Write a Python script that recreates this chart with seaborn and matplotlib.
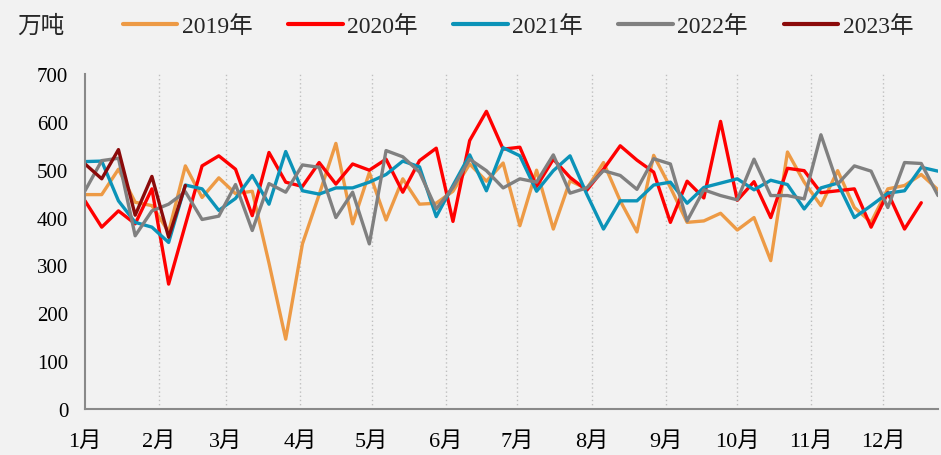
import numpy as np
import pandas as pd
import matplotlib
matplotlib.use("Agg")
import matplotlib.pyplot as plt
import seaborn as sns

# weekly output, 万吨
years = ["2019年", "2020年", "2021年", "2022年", "2023年"]
y2019 = [448, 448, 501, 432, 425, 370, 508, 442, 483, 450, 455, 305, 146, 345, 448, 555,
         387, 494, 395, 481, 428, 430, 455, 512, 476, 514, 383, 499, 376, 477, 460, 515,
         435, 370, 530, 463, 390, 393, 409, 374, 400, 310, 537, 474, 425, 498, 421, 390,
         460, 467, 490, 458]
y2020 = [435, 380, 414, 387, 460, 261, 385, 508, 529, 501, 404, 536, 474, 465, 515, 470,
         512, 499, 522, 453, 519, 545, 392, 561, 622, 543, 547, 465, 522, 484, 457, 501,
         550, 520, 495, 390, 476, 441, 601, 436, 475, 400, 503, 498, 452, 456, 460, 380,
         452, 376, 431]
y2021 = [517, 518, 435, 390, 380, 348, 468, 460, 415, 440, 488, 428, 538, 456, 449, 462,
         462, 474, 490, 518, 506, 402, 467, 531, 456, 546, 529, 455, 498, 529, 449, 376,
         435, 435, 468, 474, 430, 463, 472, 481, 458, 478, 469, 418, 462, 472, 400, 425,
         451, 456, 505, 497]
y2022 = [456, 519, 524, 362, 414, 428, 454, 396, 403, 469, 373, 471, 453, 510, 505, 400,
         453, 345, 540, 527, 495, 418, 463, 522, 498, 462, 481, 474, 531, 451, 462, 498,
         488, 459, 523, 512, 393, 458, 446, 437, 522, 446, 446, 439, 573, 470, 508, 497,
         421, 515, 513, 446]
y2023 = [512, 481, 542, 405, 486, 359, 467]
series = [y2019, y2020, y2021, y2022, y2023]
colors = ["#ED9A45", "#FF0000", "#0B93B8", "#808080", "#8B0A0A"]

month_labels = ["1月", "2月", "3月", "4月", "5月", "6月", "7月", "8月", "9月", "10月", "11月", "12月"]
month_start = [0, 31, 59, 90, 120, 151, 181, 212, 243, 273, 304, 334]

rows = []
for name, vals in zip(years, series):
    for i, v in enumerate(vals):
        rows.append({"day": i * 7, "value": v, "year": name})
df = pd.DataFrame(rows)

sns.set_style("white")
plt.rcParams["font.family"] = ["Liberation Serif", "Noto Sans CJK SC"]
bg = "#F2F2F2"

fig = plt.figure(figsize=(9.41, 4.56), dpi=100, facecolor=bg)
ax = fig.add_axes([85 / 941, 46 / 456, 853 / 941, 335 / 456])
ax.set_facecolor(bg)

sns.lineplot(data=df, x="day", y="value", hue="year", palette=dict(zip(years, colors)),
             linewidth=2.4, ax=ax, legend=False)

ax.set_xlim(0, 357)
ax.set_ylim(0, 700)
ax.set_yticks(range(0, 701, 100))
ax.set_xticks(month_start)
ax.set_xticklabels(month_labels)
ax.set_xlabel("")
ax.set_ylabel("")

for d in month_start[1:]:
    ax.axvline(d, color="#BFBFBF", linestyle=(0, (1, 2)), linewidth=1, zorder=0)

for side in ["top", "right"]:
    ax.spines[side].set_visible(False)
for side in ["left", "bottom"]:
    ax.spines[side].set_color("#898989")
    ax.spines[side].set_linewidth(1.5)
ax.tick_params(axis="both", direction="out", length=5, width=1, color="#898989",
               labelcolor="#000000")
ax.tick_params(axis="x", pad=11, labelsize=16)
ax.tick_params(axis="y", pad=7, labelsize=15)

handles = [plt.Line2D([], [], color=c, linewidth=3) for c in colors]
fig.legend(handles, years, loc="center left", bbox_to_anchor=(123 / 941, 1 - 27 / 456),
           ncol=5, frameon=False, fontsize=17, handlelength=2.3, handletextpad=0.2,
           columnspacing=1.5, borderpad=0, borderaxespad=0)
fig.text(17 / 941, 1 - 27 / 456, "万吨", fontsize=17, va="center", ha="left")

fig.savefig("out.png", dpi=100, facecolor=bg)
